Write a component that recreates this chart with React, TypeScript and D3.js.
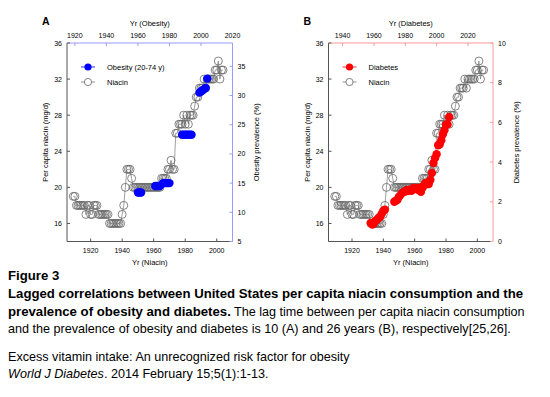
import React from "react";
import * as d3 from "d3";

// ---------- data ----------
const niacinYears = [
  1909, 1910, 1911, 1912, 1913, 1914, 1915, 1916, 1917, 1918, 1919, 1920, 1921, 1922, 1923, 1924,
  1925, 1926, 1927, 1928, 1929, 1930, 1931, 1932, 1933, 1934, 1935, 1936, 1937, 1938, 1939, 1940,
  1941, 1942, 1943, 1944, 1945, 1946, 1947, 1948, 1949, 1950, 1951, 1952, 1953, 1954, 1955, 1956,
  1957, 1958, 1959, 1960, 1961, 1962, 1963, 1964, 1965, 1966, 1967, 1968, 1969, 1970, 1971, 1972,
  1973, 1974, 1975, 1976, 1977, 1978, 1979, 1980, 1981, 1982, 1983, 1984, 1985, 1986, 1987, 1988,
  1989, 1990, 1991, 1992, 1993, 1994, 1995, 1996, 1997, 1998, 1999, 2000, 2001, 2002, 2003, 2004,
];
const niacinValues = [
  19, 19, 18, 18, 18, 18, 18, 18, 17, 18, 18, 17, 17, 18, 18, 18,
  17, 17, 17, 17, 17, 17, 17, 16, 16, 16, 16, 16, 16, 16, 16, 17,
  18, 20, 22, 22, 22, 21, 20, 20, 20, 20, 20, 20, 20, 20, 20, 20,
  20, 20, 20, 20, 20, 20, 20, 20, 21, 21, 21, 21, 22, 22, 23, 22,
  22, 26, 26, 27, 27, 27, 28, 27, 28, 27, 28, 28, 28, 29, 30, 30,
  31, 31, 31, 32, 31, 32, 32, 32, 32, 32, 33, 33, 34, 32, 33, 33,
];

const obesityYears = [
  1960, 1961, 1962, 1971, 1972, 1973, 1974, 1976, 1977, 1978, 1979, 1980,
  1988, 1989, 1990, 1991, 1992, 1993, 1994, 1999, 2000, 2001, 2002, 2003, 2004,
];
const obesityValues = [
  13.4, 13.4, 13.4, 14.5, 14.5, 14.5, 14.5, 15.0, 15.0, 15.0, 15.0, 15.0,
  23.3, 23.3, 23.3, 23.3, 23.3, 23.3, 23.3, 30.5, 30.7, 30.9, 31.1, 31.3, 32.9,
];

const diabetesYears = [
  1958, 1959, 1960, 1961, 1962, 1963, 1964, 1965, 1966, 1967,
  1973, 1974, 1975, 1976, 1977, 1978, 1979, 1980, 1981, 1982, 1983, 1984, 1985, 1986, 1987,
  1988, 1989, 1990, 1991, 1992, 1993, 1994, 1995, 1996, 1997, 1998, 1999, 2000, 2001, 2002,
  2003, 2004, 2005, 2006, 2007, 2008,
];
const diabetesValues = [
  0.93, 0.85, 0.91, 1.05, 1.1, 1.2, 1.25, 1.4, 1.55, 1.6,
  2.0, 2.05, 2.1, 2.25, 2.35, 2.45, 2.5, 2.52, 2.6, 2.55, 2.6, 2.55, 2.7, 2.65, 2.7,
  2.6, 2.7, 2.5, 2.7, 2.85, 2.95, 2.9, 2.9, 3.1, 3.45, 3.95, 4.2, 4.4, 4.85, 4.9,
  5.1, 5.4, 5.6, 5.88, 5.9, 6.27,
];

const niacinTicks = [16, 20, 24, 28, 32, 36];
const niacinYearTicks = [1920, 1940, 1960, 1980, 2000];
const obesityYearTicks = [1920, 1940, 1960, 1980, 2000, 2020];
const obesityTicks = [5, 10, 15, 20, 25, 30, 35];
const diabetesYearTicks = [1940, 1960, 1980, 2000, 2020];
const diabetesTicks = [0, 2, 4, 6, 8, 10];

const FONT = "'Liberation Sans', Arial, Helvetica, sans-serif";

type PanelProps = {
  left: number;
  right: number;
  top: number;
  bottom: number;
  letter: string;
  topTitle: string;
  rightTitle: string;
  topDomain: [number, number];
  topTicks: number[];
  rightDomain: [number, number];
  rightTicks: number[];
  accent: string;
  markColor: string;
  sYears: number[];
  sValues: number[];
  legendLabel: string;
};

function Panel(p: PanelProps) {
  const { left, right, top, bottom } = p;
  const x = d3.scaleLinear().domain([1905, 2010]).range([left, right]);
  const y = d3.scaleLinear().domain([14, 36]).range([bottom, top]);
  const xt = d3.scaleLinear().domain(p.topDomain).range([left, right]);
  const yr = d3.scaleLinear().domain(p.rightDomain).range([bottom, top]);

  const niacinPts: [number, number][] = niacinYears.map((yy, i) => [x(yy), y(niacinValues[i])]);
  const seriesPts: [number, number][] = p.sYears.map((yy, i) => [xt(yy), yr(p.sValues[i])]);
  const line = d3.line<[number, number]>().x((d) => d[0]).y((d) => d[1]);

  const axisCol = "#555";
  const tk = 3;
  const cx = (left + right) / 2;
  const cy = (top + bottom) / 2;
  const legX = left + 21;
  const legY1 = top + 24;
  const legY2 = top + 39;

  return (
    <g fontFamily={FONT}>
      <text x={left - 25} y={25} fontSize={10.5} fontWeight="bold">
        {p.letter}
      </text>

      {/* niacin line + points */}
      <path d={line(niacinPts) || ""} fill="none" stroke="#777" strokeWidth={0.7} />
      {niacinPts.map((d, i) => (
        <circle key={"n" + i} cx={d[0]} cy={d[1]} r={4} fill="none" stroke="#666" strokeWidth={0.8} />
      ))}

      {/* series points */}
      {seriesPts.map((d, i) => (
        <circle key={"s" + i} cx={d[0]} cy={d[1]} r={4.2} fill={p.markColor} />
      ))}

      {/* frame: left & bottom */}
      <line x1={left} x2={left} y1={top} y2={bottom} stroke={axisCol} strokeWidth={1} />
      <line x1={left} x2={right} y1={bottom} y2={bottom} stroke={axisCol} strokeWidth={1} />
      {/* top & right */}
      <line x1={left} x2={right} y1={top} y2={top} stroke={p.accent} strokeWidth={1} />
      <line x1={right} x2={right} y1={top} y2={bottom} stroke={p.accent} strokeWidth={1} />

      {/* left ticks */}
      {niacinTicks.map((t) => (
        <g key={"l" + t}>
          <line x1={left} x2={left + tk} y1={y(t)} y2={y(t)} stroke={axisCol} />
          <text x={left - 5} y={y(t) + 2.5} fontSize={7} textAnchor="end">
            {t}
          </text>
        </g>
      ))}
      {/* bottom ticks */}
      {niacinYearTicks.map((t) => (
        <g key={"b" + t}>
          <line x1={x(t)} x2={x(t)} y1={bottom} y2={bottom - tk} stroke={axisCol} />
          <text x={x(t)} y={bottom + 11} fontSize={7} textAnchor="middle">
            {t}
          </text>
        </g>
      ))}
      {/* top ticks */}
      {p.topTicks.map((t) => (
        <g key={"t" + t}>
          <line x1={xt(t)} x2={xt(t)} y1={top} y2={top + tk} stroke={p.accent} />
          <text x={xt(t)} y={top - 5} fontSize={7} textAnchor="middle">
            {t}
          </text>
        </g>
      ))}
      {/* right ticks */}
      {p.rightTicks.map((t) => (
        <g key={"r" + t}>
          <line x1={right} x2={right - tk} y1={yr(t)} y2={yr(t)} stroke={p.accent} />
          <text x={right + 5} y={yr(t) + 2.5} fontSize={7} textAnchor="start">
            {t}
          </text>
        </g>
      ))}

      {/* titles */}
      <text x={cx} y={top - 17} fontSize={7.5} textAnchor="middle">
        {p.topTitle}
      </text>
      <text x={cx} y={bottom + 23} fontSize={7.5} textAnchor="middle">
        Yr (Niacin)
      </text>
      <text
        transform={`translate(${left - 19},${cy}) rotate(-90)`}
        fontSize={7.5}
        textAnchor="middle"
      >
        Per capita niacin (mg/d)
      </text>
      <text
        transform={`translate(${right + 26},${cy}) rotate(-90)`}
        fontSize={7.5}
        textAnchor="middle"
      >
        {p.rightTitle}
      </text>

      {/* legend */}
      <line x1={legX - 7} x2={legX + 7} y1={legY1} y2={legY1} stroke={p.markColor} strokeWidth={0.8} />
      <circle cx={legX} cy={legY1} r={3.6} fill={p.markColor} />
      <text x={legX + 19} y={legY1 + 2.7} fontSize={7.5}>
        {p.legendLabel}
      </text>
      <line x1={legX - 7} x2={legX + 7} y1={legY2} y2={legY2} stroke="#777" strokeWidth={0.8} />
      <circle cx={legX} cy={legY2} r={3.6} fill="#fff" stroke="#666" strokeWidth={0.8} />
      <text x={legX + 19} y={legY2 + 2.7} fontSize={7.5}>
        Niacin
      </text>
    </g>
  );
}

export default function App() {
  const cap = "'Liberation Sans', Arial, Helvetica, sans-serif";
  const bold = 13.2;
  const norm = 12.6;
  return (
    <svg
      width={550}
      height={397}
      style={{ position: "absolute", left: 0, top: 0, background: "#fff" }}
    >
      <rect x={0} y={0} width={550} height={397} fill="#fff" />
      <Panel
        left={67}
        right={232.5}
        top={43}
        bottom={241.5}
        letter="A"
        topTitle="Yr (Obesity)"
        rightTitle="Obesity prevalence (%)"
        topDomain={[1915, 2020]}
        topTicks={obesityYearTicks}
        rightDomain={[5, 39]}
        rightTicks={obesityTicks}
        accent="#9a9aff"
        markColor="#0000ff"
        sYears={obesityYears}
        sValues={obesityValues}
        legendLabel="Obesity (20-74 y)"
      />
      <Panel
        left={328.5}
        right={493}
        top={43}
        bottom={241.5}
        letter="B"
        topTitle="Yr (Diabetes)"
        rightTitle="Diabetes prevalence (%)"
        topDomain={[1931, 2036]}
        topTicks={diabetesYearTicks}
        rightDomain={[0, 10]}
        rightTicks={diabetesTicks}
        accent="#ff9a9a"
        markColor="#ff0000"
        sYears={diabetesYears}
        sValues={diabetesValues}
        legendLabel="Diabetes"
      />

      <g fontFamily={cap} fill="#000">
        <text x={8} y={280} fontWeight="bold" fontSize={bold}>
          Figure 3
        </text>
        <text x={8} y={298} fontWeight="bold" fontSize={bold}>
          Lagged correlations between United States per capita niacin consumption and the
        </text>
        <text x={8} y={316}>
          <tspan fontWeight="bold" fontSize={bold}>prevalence of obesity and diabetes.</tspan>
          <tspan fontSize={norm}> The lag time between per capita niacin consumption</tspan>
        </text>
        <text x={8} y={333} fontSize={norm}>
          and the prevalence of obesity and diabetes is 10 (A) and 26 years (B), respectively[25,26].
        </text>
        <text x={8} y={361} fontSize={norm}>
          Excess vitamin intake: An unrecognized risk factor for obesity
        </text>
        <text x={8} y={378} fontSize={norm}>
          <tspan fontStyle="italic">World J Diabetes</tspan>
          <tspan>. 2014 February 15;5(1):1-13.</tspan>
        </text>
      </g>
    </svg>
  );
}
